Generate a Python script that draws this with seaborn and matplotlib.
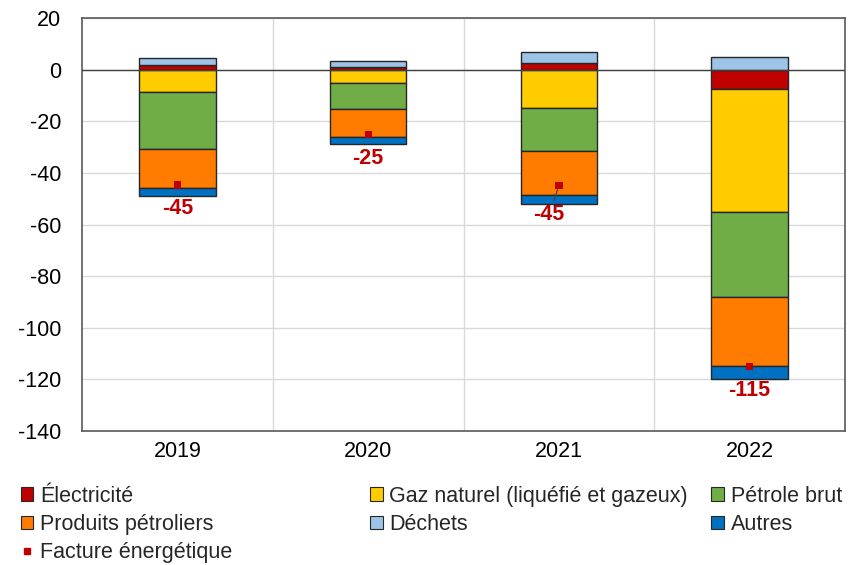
import numpy as np
import matplotlib.pyplot as plt
import seaborn as sns
from matplotlib.patches import Patch
from matplotlib.lines import Line2D

# values (billions of euros)
years = ['2019', '2020', '2021', '2022']
electricite = [1.9, 0.9, 2.6, -7.5]
gaz = [-8.5, -5.2, -14.7, -47.5]
petrole = [-22.1, -10.0, -16.6, -33.2]
produits = [-15.3, -10.9, -17.1, -26.6]
dechets = [2.6, 2.6, 4.4, 4.8]
autres = [-3.2, -2.5, -3.5, -5.1]
facture = [-44.6, -25.1, -44.9, -115.1]
facture_labels = ['-45', '-25', '-45', '-115']

series_names = ['Électricité', 'Gaz naturel (liquéfié et gazeux)', 'Pétrole brut',
                'Produits pétroliers', 'Déchets', 'Autres']
series_values = [electricite, gaz, petrole, produits, dechets, autres]
colors = ['#C00000', '#FFCC00', '#70AD47', '#FF7C00', '#9DC3E6', '#0070C0']

sns.set_theme(style='white')
plt.rcParams['font.family'] = ['Liberation Sans', 'DejaVu Sans']
plt.rcParams['axes.unicode_minus'] = False

fs = 15.5

fig, ax = plt.subplots(figsize=(8.56, 5.65), dpi=100)
fig.subplots_adjust(left=0.096, right=0.987, top=0.968, bottom=0.237)

x = np.arange(len(years))
pos_base = np.zeros(len(years))
neg_base = np.zeros(len(years))
for name, vals, col in zip(series_names, series_values, colors):
    vals = np.array(vals)
    bottom = np.where(vals >= 0, pos_base, neg_base)
    ax.bar(x, vals, width=0.4, bottom=bottom, color=col,
           edgecolor='#262626', linewidth=1, zorder=3)
    pos_base = pos_base + np.where(vals >= 0, vals, 0)
    neg_base = neg_base + np.where(vals < 0, vals, 0)

# facture energetique markers
sns.scatterplot(x=x, y=facture, marker='s', s=28, color='#C00000',
                edgecolor='none', ax=ax, zorder=5)

for i, (v, lab) in enumerate(zip(facture, facture_labels)):
    if i == 2:
        ax.annotate(lab, (i, v), xytext=(-7, -21), textcoords='offset points',
                    ha='center', va='center', color='#C00000', fontsize=fs,
                    fontweight='bold', zorder=6,
                    arrowprops=dict(arrowstyle='-', color='#404040', lw=0.8,
                                    shrinkA=0, shrinkB=3))
    else:
        ax.annotate(lab, (i, v), xytext=(0, -17), textcoords='offset points',
                    ha='center', va='center', color='#C00000', fontsize=fs,
                    fontweight='bold', zorder=6)

ax.axhline(0, color='#404040', linewidth=1, zorder=4)
ax.set_ylim(-140, 20)
ax.set_yticks(range(-140, 21, 20))
ax.set_xlim(-0.5, 3.5)
ax.set_xticks(x)
ax.set_xticklabels(years)
ax.grid(axis='y', color='#D9D9D9', linewidth=1, zorder=0)
for b in [0.5, 1.5, 2.5]:
    ax.axvline(b, color='#D9D9D9', linewidth=1, zorder=0)
for sp in ax.spines.values():
    sp.set_color('#595959')
    sp.set_linewidth(1.2)
ax.tick_params(axis='both', labelsize=fs, colors='black', length=0)
ax.tick_params(axis='y', pad=15)
ax.tick_params(axis='x', pad=7)

# legend in three blocks, row-aligned
patches = [Patch(facecolor=c, edgecolor='#262626', linewidth=0.8) for c in colors]
marker_handle = Line2D([], [], marker='s', linestyle='none', color='#C00000',
                       markersize=4)
leg_kw = dict(loc='upper left', frameon=False, fontsize=fs, handlelength=0.6,
              handleheight=0.6, handletextpad=0.3, labelspacing=0.33,
              borderaxespad=0, borderpad=0)
fig.legend([patches[0], patches[3], marker_handle],
           [series_names[0], series_names[3], 'Facture énergétique'],
           bbox_to_anchor=(0.024, 0.140), **leg_kw)
fig.legend([patches[1], patches[4]], [series_names[1], series_names[4]],
           bbox_to_anchor=(0.432, 0.140), **leg_kw)
fig.legend([patches[2], patches[5]], [series_names[2], series_names[5]],
           bbox_to_anchor=(0.831, 0.140), **leg_kw)

plt.savefig('out.png', dpi=100)
